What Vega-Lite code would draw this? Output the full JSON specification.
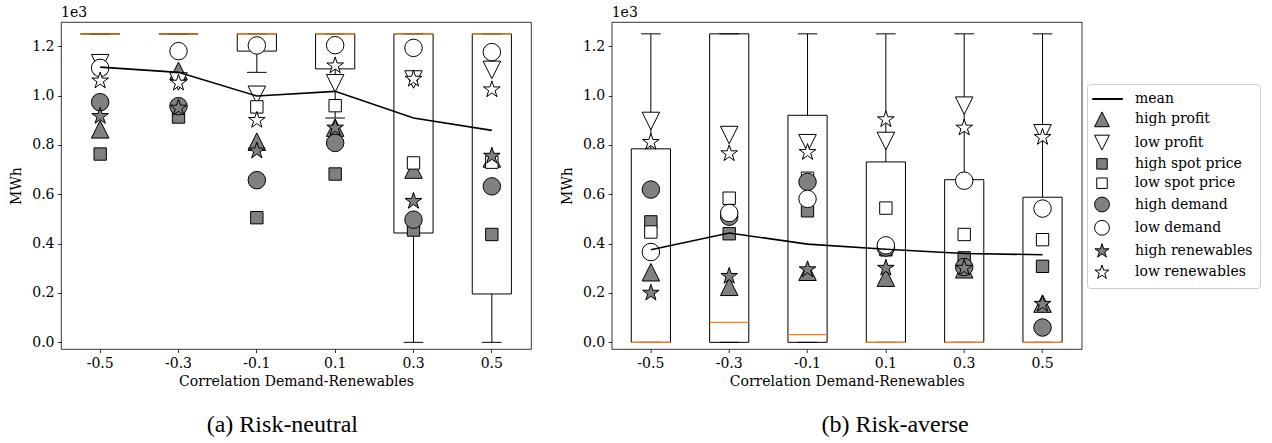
{
  "$schema": "https://vega.github.io/schema/vega-lite/v6.json",
  "background": "white",
  "padding": {"left": 9, "top": 5, "right": 5, "bottom": 5},
  "spacing": 27.7,
  "config": {
    "font": "DejaVu Serif",
    "view": {"stroke": "black", "strokeWidth": 0.8},
    "axis": {
      "domain": false, "grid": false,
      "labelFont": "DejaVu Serif", "labelFontSize": 14, "labelColor": "black",
      "titleFont": "DejaVu Serif", "titleFontSize": 14, "titleFontWeight": "normal", "titleColor": "black",
      "tickColor": "black", "tickSize": 3.5, "tickWidth": 0.8, "labelPadding": 3.5
    },
    "axisX": {"labelAngle": 0, "titlePadding": 4},
    "axisY": {"titlePadding": 8},
    "legend": {
      "labelFont": "DejaVu Serif", "labelFontSize": 14, "labelColor": "black",
      "symbolSize": 220, "symbolStrokeColor": "black", "symbolStrokeWidth": 1,
      "strokeColor": "#cccccc", "fillColor": "white", "cornerRadius": 3,
      "padding": 7, "rowPadding": 3.3, "labelOffset": 25
    },
    "title": {"font": "DejaVu Serif", "fontWeight": "normal", "color": "black"}
  },
  "datasets": {
    "neutralPts": [
      {"corr": "-0.5", "scenario": "high profit", "MWh": 863},
      {"corr": "-0.5", "scenario": "low profit", "MWh": 1131},
      {"corr": "-0.5", "scenario": "high spot price", "MWh": 763},
      {"corr": "-0.5", "scenario": "low spot price", "MWh": 1110},
      {"corr": "-0.5", "scenario": "high demand", "MWh": 973},
      {"corr": "-0.5", "scenario": "low demand", "MWh": 1112},
      {"corr": "-0.5", "scenario": "high renewables", "MWh": 916},
      {"corr": "-0.5", "scenario": "low renewables", "MWh": 1060},
      {"corr": "-0.3", "scenario": "high profit", "MWh": 1100},
      {"corr": "-0.3", "scenario": "low profit", "MWh": 1057},
      {"corr": "-0.3", "scenario": "high spot price", "MWh": 913},
      {"corr": "-0.3", "scenario": "low spot price", "MWh": 955},
      {"corr": "-0.3", "scenario": "high demand", "MWh": 957},
      {"corr": "-0.3", "scenario": "low demand", "MWh": 1180},
      {"corr": "-0.3", "scenario": "high renewables", "MWh": 950},
      {"corr": "-0.3", "scenario": "low renewables", "MWh": 1051},
      {"corr": "-0.1", "scenario": "high profit", "MWh": 813},
      {"corr": "-0.1", "scenario": "low profit", "MWh": 1003},
      {"corr": "-0.1", "scenario": "high spot price", "MWh": 505},
      {"corr": "-0.1", "scenario": "low spot price", "MWh": 954},
      {"corr": "-0.1", "scenario": "high demand", "MWh": 657},
      {"corr": "-0.1", "scenario": "low demand", "MWh": 1203},
      {"corr": "-0.1", "scenario": "high renewables", "MWh": 776},
      {"corr": "-0.1", "scenario": "low renewables", "MWh": 900},
      {"corr": "0.1", "scenario": "high profit", "MWh": 870},
      {"corr": "0.1", "scenario": "low profit", "MWh": 1050},
      {"corr": "0.1", "scenario": "high spot price", "MWh": 682},
      {"corr": "0.1", "scenario": "low spot price", "MWh": 959},
      {"corr": "0.1", "scenario": "high demand", "MWh": 808},
      {"corr": "0.1", "scenario": "low demand", "MWh": 1204},
      {"corr": "0.1", "scenario": "high renewables", "MWh": 869},
      {"corr": "0.1", "scenario": "low renewables", "MWh": 1121},
      {"corr": "0.3", "scenario": "high profit", "MWh": 700},
      {"corr": "0.3", "scenario": "low profit", "MWh": 1065},
      {"corr": "0.3", "scenario": "high spot price", "MWh": 455},
      {"corr": "0.3", "scenario": "low spot price", "MWh": 727},
      {"corr": "0.3", "scenario": "high demand", "MWh": 497},
      {"corr": "0.3", "scenario": "low demand", "MWh": 1193},
      {"corr": "0.3", "scenario": "high renewables", "MWh": 572},
      {"corr": "0.3", "scenario": "low renewables", "MWh": 1067},
      {"corr": "0.5", "scenario": "high profit", "MWh": 745},
      {"corr": "0.5", "scenario": "low profit", "MWh": 1104},
      {"corr": "0.5", "scenario": "high spot price", "MWh": 437},
      {"corr": "0.5", "scenario": "low spot price", "MWh": 730},
      {"corr": "0.5", "scenario": "high demand", "MWh": 632},
      {"corr": "0.5", "scenario": "low demand", "MWh": 1176},
      {"corr": "0.5", "scenario": "high renewables", "MWh": 755},
      {"corr": "0.5", "scenario": "low renewables", "MWh": 1024}
    ],
    "aversePts": [
      {"corr": "-0.5", "scenario": "high profit", "MWh": 284},
      {"corr": "-0.5", "scenario": "low profit", "MWh": 897},
      {"corr": "-0.5", "scenario": "high spot price", "MWh": 488},
      {"corr": "-0.5", "scenario": "low spot price", "MWh": 447},
      {"corr": "-0.5", "scenario": "high demand", "MWh": 619},
      {"corr": "-0.5", "scenario": "low demand", "MWh": 366},
      {"corr": "-0.5", "scenario": "high renewables", "MWh": 200},
      {"corr": "-0.5", "scenario": "low renewables", "MWh": 811},
      {"corr": "-0.3", "scenario": "high profit", "MWh": 225},
      {"corr": "-0.3", "scenario": "low profit", "MWh": 840},
      {"corr": "-0.3", "scenario": "high spot price", "MWh": 440},
      {"corr": "-0.3", "scenario": "low spot price", "MWh": 584},
      {"corr": "-0.3", "scenario": "high demand", "MWh": 509},
      {"corr": "-0.3", "scenario": "low demand", "MWh": 524},
      {"corr": "-0.3", "scenario": "high renewables", "MWh": 268},
      {"corr": "-0.3", "scenario": "low renewables", "MWh": 765},
      {"corr": "-0.1", "scenario": "high profit", "MWh": 286},
      {"corr": "-0.1", "scenario": "low profit", "MWh": 807},
      {"corr": "-0.1", "scenario": "high spot price", "MWh": 533},
      {"corr": "-0.1", "scenario": "low spot price", "MWh": 665},
      {"corr": "-0.1", "scenario": "high demand", "MWh": 650},
      {"corr": "-0.1", "scenario": "low demand", "MWh": 581},
      {"corr": "-0.1", "scenario": "high renewables", "MWh": 295},
      {"corr": "-0.1", "scenario": "low renewables", "MWh": 770},
      {"corr": "0.1", "scenario": "high profit", "MWh": 262},
      {"corr": "0.1", "scenario": "low profit", "MWh": 816},
      {"corr": "0.1", "scenario": "high spot price", "MWh": 375},
      {"corr": "0.1", "scenario": "low spot price", "MWh": 544},
      {"corr": "0.1", "scenario": "high demand", "MWh": 384},
      {"corr": "0.1", "scenario": "low demand", "MWh": 393},
      {"corr": "0.1", "scenario": "high renewables", "MWh": 301},
      {"corr": "0.1", "scenario": "low renewables", "MWh": 903},
      {"corr": "0.3", "scenario": "high profit", "MWh": 296},
      {"corr": "0.3", "scenario": "low profit", "MWh": 959},
      {"corr": "0.3", "scenario": "high spot price", "MWh": 342},
      {"corr": "0.3", "scenario": "low spot price", "MWh": 437},
      {"corr": "0.3", "scenario": "high demand", "MWh": 305},
      {"corr": "0.3", "scenario": "low demand", "MWh": 655},
      {"corr": "0.3", "scenario": "high renewables", "MWh": 301},
      {"corr": "0.3", "scenario": "low renewables", "MWh": 869},
      {"corr": "0.5", "scenario": "high profit", "MWh": 157},
      {"corr": "0.5", "scenario": "low profit", "MWh": 847},
      {"corr": "0.5", "scenario": "high spot price", "MWh": 308},
      {"corr": "0.5", "scenario": "low spot price", "MWh": 416},
      {"corr": "0.5", "scenario": "high demand", "MWh": 60},
      {"corr": "0.5", "scenario": "low demand", "MWh": 542},
      {"corr": "0.5", "scenario": "high renewables", "MWh": 155},
      {"corr": "0.5", "scenario": "low renewables", "MWh": 831}
    ],
    "neutralBox": [
      {"corr": "-0.5", "lo": 1250, "q1": 1250, "med": 1250, "q3": 1250, "hi": 1250},
      {"corr": "-0.3", "lo": 1250, "q1": 1250, "med": 1250, "q3": 1250, "hi": 1250},
      {"corr": "-0.1", "lo": 1094, "q1": 1180, "med": 1250, "q3": 1250, "hi": 1250},
      {"corr": "0.1", "lo": 909, "q1": 1108, "med": 1250, "q3": 1250, "hi": 1250},
      {"corr": "0.3", "lo": 0, "q1": 443, "med": 1250, "q3": 1250, "hi": 1250},
      {"corr": "0.5", "lo": 0, "q1": 196, "med": 1250, "q3": 1250, "hi": 1250}
    ],
    "averseBox": [
      {"corr": "-0.5", "lo": 0, "q1": 0, "med": 0, "q3": 784, "hi": 1250},
      {"corr": "-0.3", "lo": 0, "q1": 0, "med": 81, "q3": 1250, "hi": 1250},
      {"corr": "-0.1", "lo": 0, "q1": 0, "med": 31, "q3": 920, "hi": 1250},
      {"corr": "0.1", "lo": 0, "q1": 0, "med": 0, "q3": 731, "hi": 1250},
      {"corr": "0.3", "lo": 0, "q1": 0, "med": 0, "q3": 659, "hi": 1250},
      {"corr": "0.5", "lo": 0, "q1": 0, "med": 0, "q3": 588, "hi": 1250}
    ],
    "neutralMean": [
      {"corr": "-0.5", "MWh": 1115},
      {"corr": "-0.3", "MWh": 1094},
      {"corr": "-0.1", "MWh": 998},
      {"corr": "0.1", "MWh": 1017},
      {"corr": "0.3", "MWh": 909},
      {"corr": "0.5", "MWh": 859}
    ],
    "averseMean": [
      {"corr": "-0.5", "MWh": 375},
      {"corr": "-0.3", "MWh": 443},
      {"corr": "-0.1", "MWh": 398},
      {"corr": "0.1", "MWh": 377},
      {"corr": "0.3", "MWh": 360},
      {"corr": "0.5", "MWh": 355}
    ]
  },
  "hconcat": [
    {
      "title": {"text": "(a) Risk-neutral", "orient": "bottom", "anchor": "middle", "font": "Liberation Serif", "fontSize": 24, "fontWeight": "normal", "offset": 25, "dx": 12},
      "vconcat": [
        {
          "width": 470, "height": 327,
          "title": {"text": "1e3", "anchor": "start", "frame": "group", "fontSize": 14, "offset": 2},
          "encoding": {
            "x": {"field": "corr", "type": "ordinal", "sort": ["-0.5", "-0.3", "-0.1", "0.1", "0.3", "0.5"], "scale": {"paddingInner": 0.5, "paddingOuter": 0.25}, "title": "Correlation Demand-Renewables"}
          },
          "layer": [
            {
              "data": {"name": "neutralBox"},
              "mark": {"type": "rule", "color": "black", "strokeWidth": 1},
              "encoding": {
                "y": {"field": "lo", "type": "quantitative", "scale": {"domain": [-27, 1298], "nice": false, "zero": false}, "axis": {"values": [0, 200, 400, 600, 800, 1000, 1200], "labelExpr": "format(datum.value / 1000, '.1f')"}, "title": "MWh"},
                "y2": {"field": "q1"}
              }
            },
            {
              "data": {"name": "neutralBox"},
              "mark": {"type": "rule", "color": "black", "strokeWidth": 1},
              "encoding": {
                "y": {"field": "q3", "type": "quantitative", "scale": {"domain": [-27, 1298], "nice": false, "zero": false}, "axis": {"values": [0, 200, 400, 600, 800, 1000, 1200], "labelExpr": "format(datum.value / 1000, '.1f')"}, "title": "MWh"},
                "y2": {"field": "hi"}
              }
            },
            {
              "data": {"name": "neutralBox"},
              "mark": {"type": "tick", "color": "black", "size": 19.6, "thickness": 1, "opacity": 1},
              "encoding": {
                "y": {"field": "lo", "type": "quantitative", "scale": {"domain": [-27, 1298], "nice": false, "zero": false}, "axis": {"values": [0, 200, 400, 600, 800, 1000, 1200], "labelExpr": "format(datum.value / 1000, '.1f')"}, "title": "MWh"}
              }
            },
            {
              "data": {"name": "neutralBox"},
              "mark": {"type": "tick", "color": "black", "size": 19.6, "thickness": 1, "opacity": 1},
              "encoding": {
                "y": {"field": "hi", "type": "quantitative", "scale": {"domain": [-27, 1298], "nice": false, "zero": false}, "axis": {"values": [0, 200, 400, 600, 800, 1000, 1200], "labelExpr": "format(datum.value / 1000, '.1f')"}, "title": "MWh"}
              }
            },
            {
              "data": {"name": "neutralBox"},
              "mark": {"type": "bar", "filled": false, "stroke": "black", "strokeWidth": 1},
              "encoding": {
                "y": {"field": "q1", "type": "quantitative", "scale": {"domain": [-27, 1298], "nice": false, "zero": false}, "axis": {"values": [0, 200, 400, 600, 800, 1000, 1200], "labelExpr": "format(datum.value / 1000, '.1f')"}, "title": "MWh"},
                "y2": {"field": "q3"}
              }
            },
            {
              "data": {"name": "neutralBox"},
              "mark": {"type": "tick", "color": "#ff7f0e", "size": 39.2, "thickness": 1.2, "opacity": 1},
              "encoding": {
                "y": {"field": "med", "type": "quantitative", "scale": {"domain": [-27, 1298], "nice": false, "zero": false}, "axis": {"values": [0, 200, 400, 600, 800, 1000, 1200], "labelExpr": "format(datum.value / 1000, '.1f')"}, "title": "MWh"}
              }
            },
            {
              "data": {"name": "neutralPts"},
              "mark": {"type": "point", "filled": true, "size": 306, "strokeWidth": 1, "opacity": 1},
              "encoding": {
                "y": {"field": "MWh", "type": "quantitative", "scale": {"domain": [-27, 1298], "nice": false, "zero": false}, "axis": {"values": [0, 200, 400, 600, 800, 1000, 1200], "labelExpr": "format(datum.value / 1000, '.1f')"}, "title": "MWh"},
                "shape": {"field": "scenario", "type": "nominal", "title": null,
                  "scale": {"domain": ["mean", "high profit", "low profit", "high spot price", "low spot price", "high demand", "low demand", "high renewables", "low renewables"],
                    "range": ["M-1.27,-0.06L2.78,-0.06L2.78,0.06L-1.27,0.06Z", "M0,-1L1,1L-1,1Z", "M0,1L1,-1L-1,-1Z", "M-0.707,-0.707L0.707,-0.707L0.707,0.707L-0.707,0.707Z", "M-0.707,-0.707L0.707,-0.707L0.707,0.707L-0.707,0.707Z", "circle", "circle", "M0,-1L0.2245,-0.309L0.9511,-0.309L0.3633,0.118L0.5878,0.809L0,0.382L-0.5878,0.809L-0.3633,0.118L-0.9511,-0.309L-0.2245,-0.309Z", "M0,-1L0.2245,-0.309L0.9511,-0.309L0.3633,0.118L0.5878,0.809L0,0.382L-0.5878,0.809L-0.3633,0.118L-0.9511,-0.309L-0.2245,-0.309Z"]},
                  "legend": {"orient": "none", "legendX": 1026, "legendY": 62}},
                "fill": {"field": "scenario", "type": "nominal", "title": null,
                  "scale": {"domain": ["mean", "high profit", "low profit", "high spot price", "low spot price", "high demand", "low demand", "high renewables", "low renewables"],
                    "range": ["black", "#808080", "white", "#808080", "white", "#808080", "white", "#808080", "white"]},
                  "legend": {"orient": "none", "legendX": 1026, "legendY": 62}},
                "stroke": {"field": "scenario", "type": "nominal", "title": null,
                  "scale": {"domain": ["mean", "high profit", "low profit", "high spot price", "low spot price", "high demand", "low demand", "high renewables", "low renewables"],
                    "range": ["black", "black", "black", "black", "black", "black", "black", "black", "black"]},
                  "legend": {"orient": "none", "legendX": 1026, "legendY": 62}}
              }
            },
            {
              "data": {"name": "neutralMean"},
              "mark": {"type": "line", "color": "black", "strokeWidth": 1.6},
              "encoding": {
                "y": {"field": "MWh", "type": "quantitative", "scale": {"domain": [-27, 1298], "nice": false, "zero": false}, "axis": {"values": [0, 200, 400, 600, 800, 1000, 1200], "labelExpr": "format(datum.value / 1000, '.1f')"}, "title": "MWh"}
              }
            }
          ]
        }
      ]
    },
    {
      "title": {"text": "(b) Risk-averse", "orient": "bottom", "anchor": "middle", "font": "Liberation Serif", "fontSize": 24, "fontWeight": "normal", "offset": 25, "dx": 74},
      "vconcat": [
        {
          "width": 470, "height": 327,
          "title": {"text": "1e3", "anchor": "start", "frame": "group", "fontSize": 14, "offset": 2},
          "encoding": {
            "x": {"field": "corr", "type": "ordinal", "sort": ["-0.5", "-0.3", "-0.1", "0.1", "0.3", "0.5"], "scale": {"paddingInner": 0.5, "paddingOuter": 0.25}, "title": "Correlation Demand-Renewables"}
          },
          "layer": [
            {
              "data": {"name": "averseBox"},
              "mark": {"type": "rule", "color": "black", "strokeWidth": 1},
              "encoding": {
                "y": {"field": "lo", "type": "quantitative", "scale": {"domain": [-27, 1298], "nice": false, "zero": false}, "axis": {"values": [0, 200, 400, 600, 800, 1000, 1200], "labelExpr": "format(datum.value / 1000, '.1f')"}, "title": "MWh"},
                "y2": {"field": "q1"}
              }
            },
            {
              "data": {"name": "averseBox"},
              "mark": {"type": "rule", "color": "black", "strokeWidth": 1},
              "encoding": {
                "y": {"field": "q3", "type": "quantitative", "scale": {"domain": [-27, 1298], "nice": false, "zero": false}, "axis": {"values": [0, 200, 400, 600, 800, 1000, 1200], "labelExpr": "format(datum.value / 1000, '.1f')"}, "title": "MWh"},
                "y2": {"field": "hi"}
              }
            },
            {
              "data": {"name": "averseBox"},
              "mark": {"type": "tick", "color": "black", "size": 19.6, "thickness": 1, "opacity": 1},
              "encoding": {
                "y": {"field": "lo", "type": "quantitative", "scale": {"domain": [-27, 1298], "nice": false, "zero": false}, "axis": {"values": [0, 200, 400, 600, 800, 1000, 1200], "labelExpr": "format(datum.value / 1000, '.1f')"}, "title": "MWh"}
              }
            },
            {
              "data": {"name": "averseBox"},
              "mark": {"type": "tick", "color": "black", "size": 19.6, "thickness": 1, "opacity": 1},
              "encoding": {
                "y": {"field": "hi", "type": "quantitative", "scale": {"domain": [-27, 1298], "nice": false, "zero": false}, "axis": {"values": [0, 200, 400, 600, 800, 1000, 1200], "labelExpr": "format(datum.value / 1000, '.1f')"}, "title": "MWh"}
              }
            },
            {
              "data": {"name": "averseBox"},
              "mark": {"type": "bar", "filled": false, "stroke": "black", "strokeWidth": 1},
              "encoding": {
                "y": {"field": "q1", "type": "quantitative", "scale": {"domain": [-27, 1298], "nice": false, "zero": false}, "axis": {"values": [0, 200, 400, 600, 800, 1000, 1200], "labelExpr": "format(datum.value / 1000, '.1f')"}, "title": "MWh"},
                "y2": {"field": "q3"}
              }
            },
            {
              "data": {"name": "averseBox"},
              "mark": {"type": "tick", "color": "#ff7f0e", "size": 39.2, "thickness": 1.2, "opacity": 1},
              "encoding": {
                "y": {"field": "med", "type": "quantitative", "scale": {"domain": [-27, 1298], "nice": false, "zero": false}, "axis": {"values": [0, 200, 400, 600, 800, 1000, 1200], "labelExpr": "format(datum.value / 1000, '.1f')"}, "title": "MWh"}
              }
            },
            {
              "data": {"name": "aversePts"},
              "mark": {"type": "point", "filled": true, "size": 306, "strokeWidth": 1, "opacity": 1},
              "encoding": {
                "y": {"field": "MWh", "type": "quantitative", "scale": {"domain": [-27, 1298], "nice": false, "zero": false}, "axis": {"values": [0, 200, 400, 600, 800, 1000, 1200], "labelExpr": "format(datum.value / 1000, '.1f')"}, "title": "MWh"},
                "shape": {"field": "scenario", "type": "nominal", "title": null,
                  "scale": {"domain": ["mean", "high profit", "low profit", "high spot price", "low spot price", "high demand", "low demand", "high renewables", "low renewables"],
                    "range": ["M-1.27,-0.06L2.78,-0.06L2.78,0.06L-1.27,0.06Z", "M0,-1L1,1L-1,1Z", "M0,1L1,-1L-1,-1Z", "M-0.707,-0.707L0.707,-0.707L0.707,0.707L-0.707,0.707Z", "M-0.707,-0.707L0.707,-0.707L0.707,0.707L-0.707,0.707Z", "circle", "circle", "M0,-1L0.2245,-0.309L0.9511,-0.309L0.3633,0.118L0.5878,0.809L0,0.382L-0.5878,0.809L-0.3633,0.118L-0.9511,-0.309L-0.2245,-0.309Z", "M0,-1L0.2245,-0.309L0.9511,-0.309L0.3633,0.118L0.5878,0.809L0,0.382L-0.5878,0.809L-0.3633,0.118L-0.9511,-0.309L-0.2245,-0.309Z"]},
                  "legend": {"orient": "none", "legendX": 1026, "legendY": 62}},
                "fill": {"field": "scenario", "type": "nominal", "title": null,
                  "scale": {"domain": ["mean", "high profit", "low profit", "high spot price", "low spot price", "high demand", "low demand", "high renewables", "low renewables"],
                    "range": ["black", "#808080", "white", "#808080", "white", "#808080", "white", "#808080", "white"]},
                  "legend": {"orient": "none", "legendX": 1026, "legendY": 62}},
                "stroke": {"field": "scenario", "type": "nominal", "title": null,
                  "scale": {"domain": ["mean", "high profit", "low profit", "high spot price", "low spot price", "high demand", "low demand", "high renewables", "low renewables"],
                    "range": ["black", "black", "black", "black", "black", "black", "black", "black", "black"]},
                  "legend": {"orient": "none", "legendX": 1026, "legendY": 62}}
              }
            },
            {
              "data": {"name": "averseMean"},
              "mark": {"type": "line", "color": "black", "strokeWidth": 1.6},
              "encoding": {
                "y": {"field": "MWh", "type": "quantitative", "scale": {"domain": [-27, 1298], "nice": false, "zero": false}, "axis": {"values": [0, 200, 400, 600, 800, 1000, 1200], "labelExpr": "format(datum.value / 1000, '.1f')"}, "title": "MWh"}
              }
            }
          ]
        }
      ]
    }
  ]
}
